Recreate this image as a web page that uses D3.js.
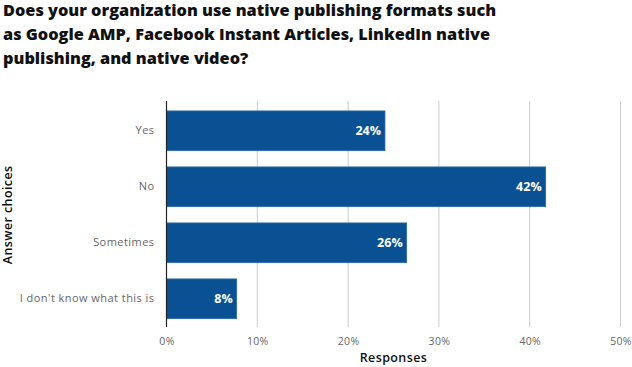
<!DOCTYPE html>
<html><head><meta charset="utf-8">
<script src="https://cdn.jsdelivr.net/npm/d3@7"></script>
<style>
body{margin:0;background:#fff;}
svg{display:block;font-family:"Open Sans",sans-serif;}
</style></head>
<body><svg id="c" width="632" height="367"></svg>
<script>
const titleLines = ["Does your organization use native publishing formats such",
  "as Google AMP, Facebook Instant Articles, LinkedIn native",
  "publishing, and native video?"];
const categories = ["Yes", "No", "Sometimes", "I don't know what this is"];
const values = [24.06, 41.76, 26.45, 7.73];
const valueLabels = ["24%", "42%", "26%", "8%"];
const xTicks = [0, 10, 20, 30, 40, 50];
const xTitle = "Responses";
const yTitle = "Answer choices";

const svg = d3.select("#c");
const mLeft = 166.5, mRight = 620.5, mTop = 102.8, mBottom = 326.8;

const x = d3.scaleLinear().domain([0, 50]).range([mLeft, mRight]);
const y = d3.scaleBand().domain(categories).range([mTop, mBottom]).paddingInner(0.29).paddingOuter(0.145);

// title
svg.append("g").selectAll("text").data(titleLines).join("text")
  .attr("x", 3).attr("y", (d, i) => 16 + i * 24)
  .attr("font-size", 16.3).attr("font-weight", 800).attr("fill", "#111")
  .text(d => d);

// gridlines
svg.append("g").selectAll("line").data(xTicks.filter(t => t > 0)).join("line")
  .attr("x1", d => x(d)).attr("x2", d => x(d))
  .attr("y1", 101).attr("y2", 327)
  .attr("stroke", "#cccccc").attr("stroke-width", 1);

// x axis ticks
const xAxis = d3.axisBottom(x).tickValues(xTicks).tickFormat(d => d + "%").tickSize(0).tickPadding(11);
const gx = svg.append("g").attr("transform", `translate(0,${327})`).call(xAxis);
gx.select(".domain").remove();
gx.selectAll("text").attr("fill", "#666").attr("font-size", 10.5).attr("font-family", "Open Sans")
  .attr("letter-spacing", 0.3);

// bars
svg.append("g").selectAll("rect").data(categories).join("rect")
  .attr("x", x(0)).attr("y", d => y(d))
  .attr("width", (d, i) => x(values[i]) - x(0))
  .attr("height", y.bandwidth())
  .attr("fill", "#0a5194").attr("stroke", "#2f6aa5").attr("stroke-width", 0.8);

// value labels
svg.append("g").selectAll("text").data(categories).join("text")
  .attr("x", (d, i) => x(values[i]) - 4)
  .attr("y", d => y(d) + y.bandwidth() / 2)
  .attr("dy", "0.35em").attr("text-anchor", "end")
  .attr("fill", "#fff").attr("font-size", 12.5).attr("font-weight", 700)
  .text((d, i) => valueLabels[i]);

// y axis
const yAxis = d3.axisLeft(y).tickSize(0).tickPadding(12);
const gy = svg.append("g").attr("transform", `translate(${mLeft},0)`).call(yAxis);
gy.select(".domain").remove();
gy.selectAll("text").attr("fill", "#666").attr("font-size", 11).attr("font-family", "Open Sans")
  .attr("letter-spacing", 0.45);

svg.append("line").attr("x1", mLeft).attr("x2", mLeft).attr("y1", 101).attr("y2", 327)
  .attr("stroke", "#222").attr("stroke-width", 1.2);

// axis titles
svg.append("text").attr("x", (mLeft + mRight) / 2).attr("y", 362)
  .attr("text-anchor", "middle").attr("font-size", 12.5).attr("font-weight", 600).attr("fill", "#111")
  .attr("letter-spacing", 0.4)
  .text(xTitle);
svg.append("text").attr("transform", `translate(11.5,${(mTop + mBottom) / 2}) rotate(-90)`)
  .attr("text-anchor", "middle").attr("font-size", 12.5).attr("font-weight", 600).attr("fill", "#111")
  .attr("letter-spacing", 0.4)
  .text(yTitle);
</script></body></html>
